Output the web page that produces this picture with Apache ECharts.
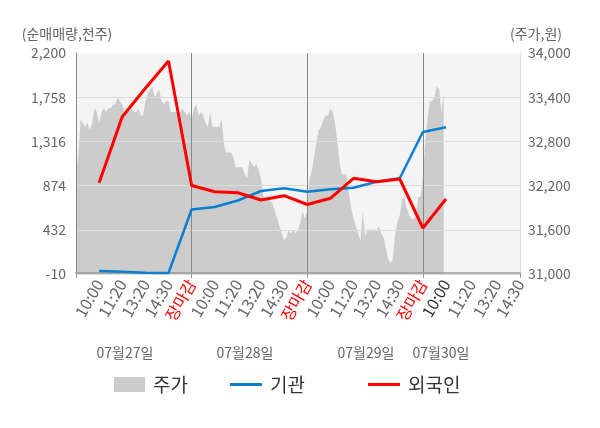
<!DOCTYPE html>
<html>
<head>
<meta charset="utf-8">
<script src="https://cdn.jsdelivr.net/npm/echarts@6/dist/echarts.min.js"></script>
<style>
  html, body { margin: 0; padding: 0; background: #fff; }
  #chart { width: 600px; height: 428px; }
</style>
</head>
<body>
<div id="chart"></div>
<script>
var FONT = '"Noto Sans CJK KR", "Noto Sans", sans-serif';

// x axis: fine time slots, 193 of them (4 days)
var slotCount = 193;
var tickLabels = ['10:00', '11:20', '13:20', '14:30', '장마감',
                  '10:00', '11:20', '13:20', '14:30', '장마감',
                  '10:00', '11:20', '13:20', '14:30', '장마감',
                  '10:00', '11:20', '13:20', '14:30'];
var labelIdx = [10, 20, 30, 40, 50, 60, 70, 80, 90, 100, 110, 120, 130, 140, 150, 160, 171, 182, 192];
var dayEndIdx = [50, 100, 150];
var tickIdx = [0, 50, 100, 150, 192];
var dateLabels = ['07월27일', '07월28일', '07월29일', '07월30일'];
var dateLabelX = [125, 245, 366, 441];

// 주가 (원), one value per slot
var priceDay1 = [32400, 32600, 33100, 33050, 33000, 33050, 32950, 33050, 33250, 33200,
                 33050, 33200, 33250, 33200, 33250, 33250, 33300, 33300, 33400, 33350,
                 33300, 33200, 33250, 33200, 33250, 33200, 33200, 33250, 33150, 33150,
                 33350, 33450, 33500, 33550, 33400, 33450, 33500, 33350, 33300, 33350,
                 33350, 33200, 33200, 33200, 33200, 33200, 33250, 33200, 33150, 33200,
                 33100];
var priceDay2 = [33250, 33300, 33150, 33200, 33150, 33050, 33000, 33200, 33000, 33000,
                 33000, 33000, 33100, 32750, 32650, 32650, 32650, 32600, 32450, 32450,
                 32450, 32450, 32350, 32300, 32550, 32500, 32450, 32500, 32400, 32300,
                 32050, 32050, 32000, 32000, 31950, 31850, 31750, 31650, 31550, 31450,
                 31500, 31600, 31550, 31600, 31550, 31600, 31700, 31850, 31750, 31850];
var priceDay3 = [32300, 32400, 32600, 32800, 32950, 33000, 33100, 33150, 33150, 33250,
                 33200, 33050, 32800, 32500, 32350, 32350, 32350, 32100, 31900, 31750,
                 31650, 31550, 31450, 31850, 31500, 31600, 31600, 31600, 31600, 31600,
                 31650, 31550, 31500, 31350, 31200, 31150, 31200, 31550, 31700, 31800,
                 32000, 32050, 31900, 31800, 31750, 31750, 31800, 32050, 32050, 32300];
var priceDay4 = [32800, 33100, 33350, 33350, 33400, 33550, 33500, 33200, 33450];

// 순매매량 (천주), at labelled slots
var instNet = [20, 13, 3, 0, 635, 660, 725, 820, 847, 813, 837, 853, 913, 947, 1410, 1457];
var foreignNet = [903, 1563, 1847, 2120, 875, 813, 803, 730, 773, 685, 747, 947, 913, 940, 450, 740];

function fmt(v) {
  return String(v).replace(/\B(?=(\d{3})+(?!\d))/g, ',');
}

var categories = [];
var labelText = [];
for (var i = 0; i < slotCount; i++) {
  categories.push(String(i));
  labelText.push('');
}
labelIdx.forEach(function (idx, k) { labelText[idx] = tickLabels[k]; });

var price = priceDay1.concat(priceDay2, priceDay3, priceDay4);
while (price.length < slotCount) price.push(null);

function spread(values) {
  var out = [];
  for (var i = 0; i < slotCount; i++) out.push(null);
  values.forEach(function (v, k) { out[labelIdx[k]] = v; });
  return out;
}

var legendText = { fontSize: 19, color: '#333', fontFamily: FONT, padding: [0, 0, 0, 3] };

var option = {
  animation: false,
  textStyle: { fontFamily: FONT },
  grid: {
    left: 76, right: 80, top: 53, bottom: 154,
    show: true, backgroundColor: '#f4f4f4', borderWidth: 0
  },
  legend: [
    { data: ['주가'], left: 109, top: 370, icon: 'rect', itemWidth: 31, itemHeight: 15, textStyle: legendText },
    { data: ['기관'], left: 225, top: 370, icon: 'rect', itemWidth: 32, itemHeight: 3, textStyle: legendText },
    { data: ['외국인'], left: 363, top: 370, icon: 'rect', itemWidth: 32, itemHeight: 3, textStyle: legendText }
  ],
  xAxis: {
    type: 'category',
    data: categories,
    boundaryGap: false,
    z: 3,
    axisLine: { lineStyle: { color: '#999', width: 1.5 } },
    axisTick: {
      interval: function (i) { return tickIdx.indexOf(i) >= 0; },
      length: 5,
      lineStyle: { color: '#999' }
    },
    axisLabel: {
      interval: function (i) { return labelIdx.indexOf(i) >= 0; },
      rotate: 60,
      margin: 7,
      fontSize: 16,
      fontFamily: FONT,
      formatter: function (v) { return labelText[+v]; },
      color: function (v) {
        var i = +v;
        if (labelText[i] === '장마감') return '#ff0000';
        if (i === 160) return '#333';
        return '#666';
      }
    },
    splitLine: {
      show: true,
      interval: function (i) { return dayEndIdx.indexOf(i) >= 0; },
      lineStyle: { color: '#888' }
    }
  },
  yAxis: [
    {
      type: 'value',
      min: -10, max: 2200, interval: 442,
      z: 3,
      name: '(순매매량,천주)',
      nameLocation: 'end',
      nameGap: 12,
      nameTextStyle: { fontSize: 14, color: '#666', fontFamily: FONT, padding: [0, 18, 0, 0] },
      axisLine: { show: true, lineStyle: { color: '#888' } },
      axisTick: { show: false },
      axisLabel: { fontSize: 14, color: '#666', margin: 10, fontFamily: FONT, formatter: fmt },
      // top line blends into the plot background
      splitLine: { lineStyle: { color: ['#dcdcdc', '#dcdcdc', '#dcdcdc', '#dcdcdc', '#dcdcdc', '#f4f4f4'] } }
    },
    {
      type: 'value',
      min: 31000, max: 34000, interval: 600,
      z: 3,
      name: '(주가,원)',
      nameLocation: 'end',
      nameGap: 12,
      nameTextStyle: { fontSize: 14, color: '#666', fontFamily: FONT, padding: [0, 0, 0, 32] },
      axisLine: { show: true, lineStyle: { color: '#ddd' } },
      axisTick: { show: false },
      axisLabel: { fontSize: 14, color: '#666', margin: 8, fontFamily: FONT, formatter: fmt },
      splitLine: { show: false }
    }
  ],
  graphic: dateLabels.map(function (t, k) {
    return {
      type: 'text', x: dateLabelX[k], y: 353,
      style: { text: t, fill: '#666', fontSize: 14, fontFamily: FONT,
               textAlign: 'center', textVerticalAlign: 'middle' }
    };
  }),
  series: [
    {
      name: '주가',
      type: 'line',
      yAxisIndex: 1,
      data: price,
      symbol: 'none',
      color: '#cccccc',
      lineStyle: { width: 0 },
      areaStyle: { color: '#cccccc', opacity: 1, origin: 'start' },
      z: 1
    },
    {
      name: '기관',
      type: 'line',
      yAxisIndex: 0,
      data: spread(instNet),
      connectNulls: true,
      symbol: 'none',
      color: '#0a7fd0',
      lineStyle: { width: 2.5, color: '#0a7fd0' },
      z: 5
    },
    {
      name: '외국인',
      type: 'line',
      yAxisIndex: 0,
      data: spread(foreignNet),
      connectNulls: true,
      symbol: 'none',
      color: '#ff0000',
      lineStyle: { width: 3, color: '#ff0000' },
      z: 6
    }
  ]
};

var chart = echarts.init(document.getElementById('chart'));
chart.setOption(option);
</script>
</body>
</html>
